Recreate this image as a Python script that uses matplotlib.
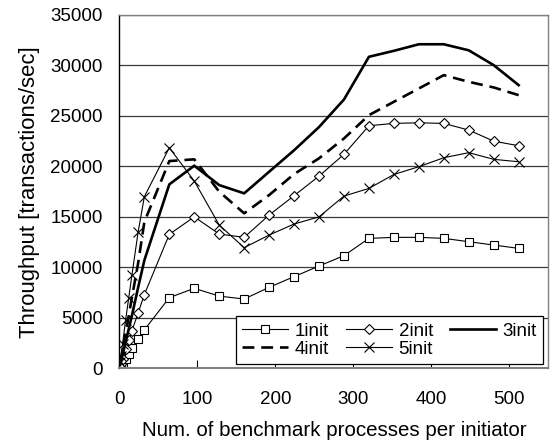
import matplotlib
matplotlib.use("Agg")
import matplotlib.pyplot as plt

plt.rcParams['font.family'] = ['Liberation Sans', 'DejaVu Sans']

procs = [1, 2, 4, 8, 12, 16, 24, 32, 64, 96, 128, 160, 192, 224, 256, 288,
         320, 352, 384, 416, 448, 480, 512]
init1 = [120, 240, 470, 900, 1450, 2000, 2870, 3800, 7000, 7920, 7150, 6860,
         8020, 9080, 10130, 11160, 12870, 12970, 12970, 12870, 12540, 12210, 11880]
init2 = [240, 470, 940, 1900, 2800, 3700, 5480, 7300, 13270, 15000, 13300, 12970,
         15180, 17100, 19040, 21200, 24030, 24260, 24320, 24260, 23600, 22500, 22050]
init3 = [330, 650, 1300, 2600, 3900, 5200, 8000, 10700, 18220, 20070, 18150, 17330,
         19470, 21600, 23900, 26630, 30860, 31450, 32100, 32100, 31500, 30030, 28050]
init4 = [450, 900, 1750, 3500, 5200, 7000, 10400, 14500, 20530, 20700, 17500, 15350,
         17160, 19240, 20800, 22770, 25080, 26400, 27720, 29040, 28380, 27820, 27060]
init5 = [600, 1200, 2400, 4800, 7000, 9200, 13500, 17000, 21850, 18550, 14190, 11950,
         13200, 14290, 15000, 17060, 17820, 19200, 19970, 20860, 21360, 20700, 20460]
labels = ["1init", "2init", "3init", "4init", "5init"]
xticks = [0, 100, 200, 300, 400, 500]
yticks = [0, 5000, 10000, 15000, 20000, 25000, 30000, 35000]

fig = plt.figure(figsize=(5.5, 4.41), dpi=100)
ax = fig.add_axes([0.2171, 0.1649, 0.9969 - 0.2171, 0.966 - 0.1649])

h1, = ax.plot(procs, init1, color='black', lw=0.8, marker='s', ms=5.5,
              mfc='white', mec='black', mew=0.8, label=labels[0])
h2, = ax.plot(procs, init2, color='black', lw=0.8, marker='D', ms=4.8,
              mfc='white', mec='black', mew=0.8, label=labels[1])
h3, = ax.plot(procs, init3, color='black', lw=1.9, label=labels[2])
h4, = ax.plot(procs, init4, color='black', lw=1.9, linestyle=(0, (4.5, 2.6)),
              label=labels[3])
h5, = ax.plot(procs, init5, color='black', lw=0.8, marker='x', ms=6.5,
              mew=0.8, label=labels[4])

ax.set_xlim(0, 550)
ax.set_ylim(0, 35000)
ax.set_xticks(xticks)
ax.set_yticks(yticks)
ax.yaxis.grid(True, color='#3a3a3a', lw=0.9)
ax.set_axisbelow(True)

ax.tick_params(axis='x', direction='in', length=6, width=0.8, pad=16,
               labelsize=13.5)
ax.tick_params(axis='y', length=0, pad=12, labelsize=13.5)

for s in ['top', 'right', 'bottom']:
    ax.spines[s].set_color('#808080')
    ax.spines[s].set_linewidth(1.0)
ax.spines['bottom'].set_linewidth(1.5)
ax.spines['left'].set_color('black')
ax.spines['left'].set_linewidth(1.0)

ax.set_xlabel("Num. of benchmark processes per initiator", fontsize=14.8,
              labelpad=10)
ax.set_ylabel("Throughput [transactions/sec]", fontsize=15.9, labelpad=7.5)

leg = ax.legend([h1, h4, h2, h5, h3],
                [labels[0], labels[3], labels[1], labels[4], labels[2]],
                ncol=3, loc='lower left',
                bbox_to_anchor=(0.272, 0.011, 0.716, 0.137), mode='expand',
                fontsize=13.5, frameon=True, fancybox=False, framealpha=1,
                edgecolor='black', borderpad=0.34, labelspacing=0.05,
                handlelength=2.45, handletextpad=0.35, columnspacing=0.6,
                borderaxespad=0)
leg.get_frame().set_linewidth(0.9)

fig.savefig("out.png", dpi=100)
